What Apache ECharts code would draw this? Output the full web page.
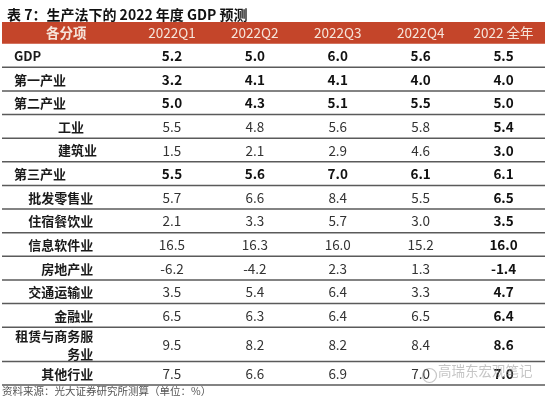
<!DOCTYPE html>
<html>
<head>
<meta charset="utf-8">
<script src="https://cdn.jsdelivr.net/npm/echarts@6/dist/echarts.min.js"></script>
<style>
html,body{margin:0;padding:0;background:#fff;}
#chart{width:550px;height:402px;}
</style>
</head>
<body>
<div id="chart"></div>
<script>
// ---- data ----
const titleText = '表 7：生产法下的 2022 年度 GDP 预测';
const sourceText = '资料来源：光大证券研究所测算（单位：%）';
const watermarkText = '高瑞东宏观笔记';
const columns = ['各分项', '2022Q1', '2022Q2', '2022Q3', '2022Q4', '2022 全年'];
const items = ['GDP', '第一产业', '第二产业', '工业', '建筑业', '第三产业', '批发零售业', '住宿餐饮业',
  '信息软件业', '房地产业', '交通运输业', '金融业', '租赁与商务服\n务业', '其他行业'];
const itemLevel = ['main', 'main', 'main', 'mid', 'mid', 'main', 'sub', 'sub',
  'sub', 'sub', 'sub', 'sub', 'sub', 'sub'];
const q1 = [5.2, 3.2, 5.0, 5.5, 1.5, 5.5, 5.7, 2.1, 16.5, -6.2, 3.5, 6.5, 9.5, 7.5];
const q2 = [5.0, 4.1, 4.3, 4.8, 2.1, 5.6, 6.6, 3.3, 16.3, -4.2, 5.4, 6.3, 8.2, 6.6];
const q3 = [6.0, 4.1, 5.1, 5.6, 2.9, 7.0, 8.4, 5.7, 16.0, 2.3, 6.4, 6.4, 8.2, 6.9];
const q4 = [5.6, 4.0, 5.5, 5.8, 4.6, 6.1, 5.5, 3.0, 15.2, 1.3, 3.3, 6.5, 8.4, 7.0];
const fullYear = [5.5, 4.0, 5.0, 5.4, 3.0, 6.1, 6.5, 3.5, 16.0, -1.4, 4.7, 6.4, 8.6, 7.0];

// ---- layout (units of the table axes) ----
const headerUnits = 0.92;
const rowUnits = items.map(function (s) { return s.indexOf('\n') >= 0 ? 1.45 : 1; });
const labelColUnits = 1.55;
const valueSeries = [q1, q2, q3, q4, fullYear];
const xMax = labelColUnits + valueSeries.length;
const rowStart = [];
let acc = headerUnits;
rowUnits.forEach(function (u) { rowStart.push(acc); acc += u; });
const yMax = acc;

const FONT = '"Noto Sans CJK SC", "Noto Sans", sans-serif';
const HEADER_BG = '#c4452a';

function renderRow(params, api) {
  const i = params.dataIndex;
  const children = [];
  if (i === -1) return null;
  const y0 = rowStart[i], y1 = rowStart[i] + rowUnits[i];
  const yc = (y0 + y1) / 2;
  const lvl = itemLevel[i];
  // label
  let lx, align;
  if (lvl === 'main') { lx = 0.145; align = 'left'; }
  else if (lvl === 'mid') { lx = 0.675; align = 'left'; }
  else { lx = 1.1; align = 'right'; }
  const lp = api.coord([lx, yc]);
  children.push({
    type: 'text',
    style: {
      text: items[i], x: lp[0], y: lp[1] + 0.5, align: align, verticalAlign: 'middle',
      font: 'bold 13px ' + FONT, fill: '#1a1a1a', lineHeight: 18
    }
  });
  valueSeries.forEach(function (arr, c) {
    const p = api.coord([labelColUnits + c + 0.5, yc]);
    const bold = lvl === 'main' || c === valueSeries.length - 1;
    children.push({
      type: 'text',
      style: {
        text: arr[i].toFixed(1), x: p[0], y: p[1] + 0.5, align: 'center', verticalAlign: 'middle',
        font: (bold ? 'bold ' : '') + '13.5px ' + FONT, fill: bold ? '#111' : '#333'
      }
    });
  });
  const a = api.coord([0, y1]), b = api.coord([xMax, y1]);
  children.push({
    type: 'line',
    shape: { x1: a[0], y1: a[1], x2: b[0], y2: b[1] },
    style: { stroke: '#5a5a5a', lineWidth: 1.5 }
  });
  return { type: 'group', children: children };
}

function renderHeader(params, api) {
  const tl = api.coord([0, 0]), br = api.coord([xMax, headerUnits]);
  const children = [{
    type: 'rect',
    shape: { x: tl[0], y: tl[1], width: br[0] - tl[0], height: br[1] - tl[1] },
    style: { fill: HEADER_BG }
  }];
  columns.forEach(function (name, c) {
    const cx = c === 0 ? labelColUnits / 2 : labelColUnits + c - 0.5;
    const p = api.coord([cx, headerUnits / 2]);
    children.push({
      type: 'text',
      style: {
        text: name, x: p[0], y: p[1] + 0.5, align: 'center', verticalAlign: 'middle',
        font: (c === 0 ? 'bold ' : '') + '13.5px ' + FONT, fill: '#f6e4da'
      }
    });
  });
  return { type: 'group', children: children };
}

const chart = echarts.init(document.getElementById('chart'), null, { renderer: 'canvas' });
chart.setOption({
  animation: false,
  backgroundColor: '#fff',
  title: {
    text: titleText, left: 2, top: 3,
    textStyle: { fontFamily: FONT, fontSize: 14, fontWeight: 'bold', color: '#111' }
  },
  grid: { left: 2, right: 5, top: 22, bottom: 17 },
  xAxis: { type: 'value', min: 0, max: xMax, show: false },
  yAxis: { type: 'value', min: 0, max: yMax, inverse: true, show: false },
  series: [
    {
      type: 'custom', renderItem: renderHeader, data: [[0, 0]], silent: true,
      encode: { x: 0, y: 1 }, clip: false
    },
    {
      type: 'custom', renderItem: renderRow, silent: true,
      data: items.map(function (s, i) { return [0, rowStart[i]]; }),
      encode: { x: 0, y: 1 }, clip: false
    }
  ],
  graphic: [
    {
      type: 'text', left: 2, top: 386,
      style: { text: sourceText, font: '10.5px ' + FONT, fill: '#555' }
    },
    {
      type: 'text', left: 438, top: 364, z: 100,
      style: { text: watermarkText, font: '13.5px ' + FONT, fill: 'rgba(150,150,150,0.55)' }
    },
    {
      type: 'circle', left: 420, top: 366, z: 100,
      shape: { r: 7 },
      style: { fill: 'none', stroke: 'rgba(150,150,150,0.55)', lineWidth: 1.2 }
    }
  ]
});
</script>
</body>
</html>
